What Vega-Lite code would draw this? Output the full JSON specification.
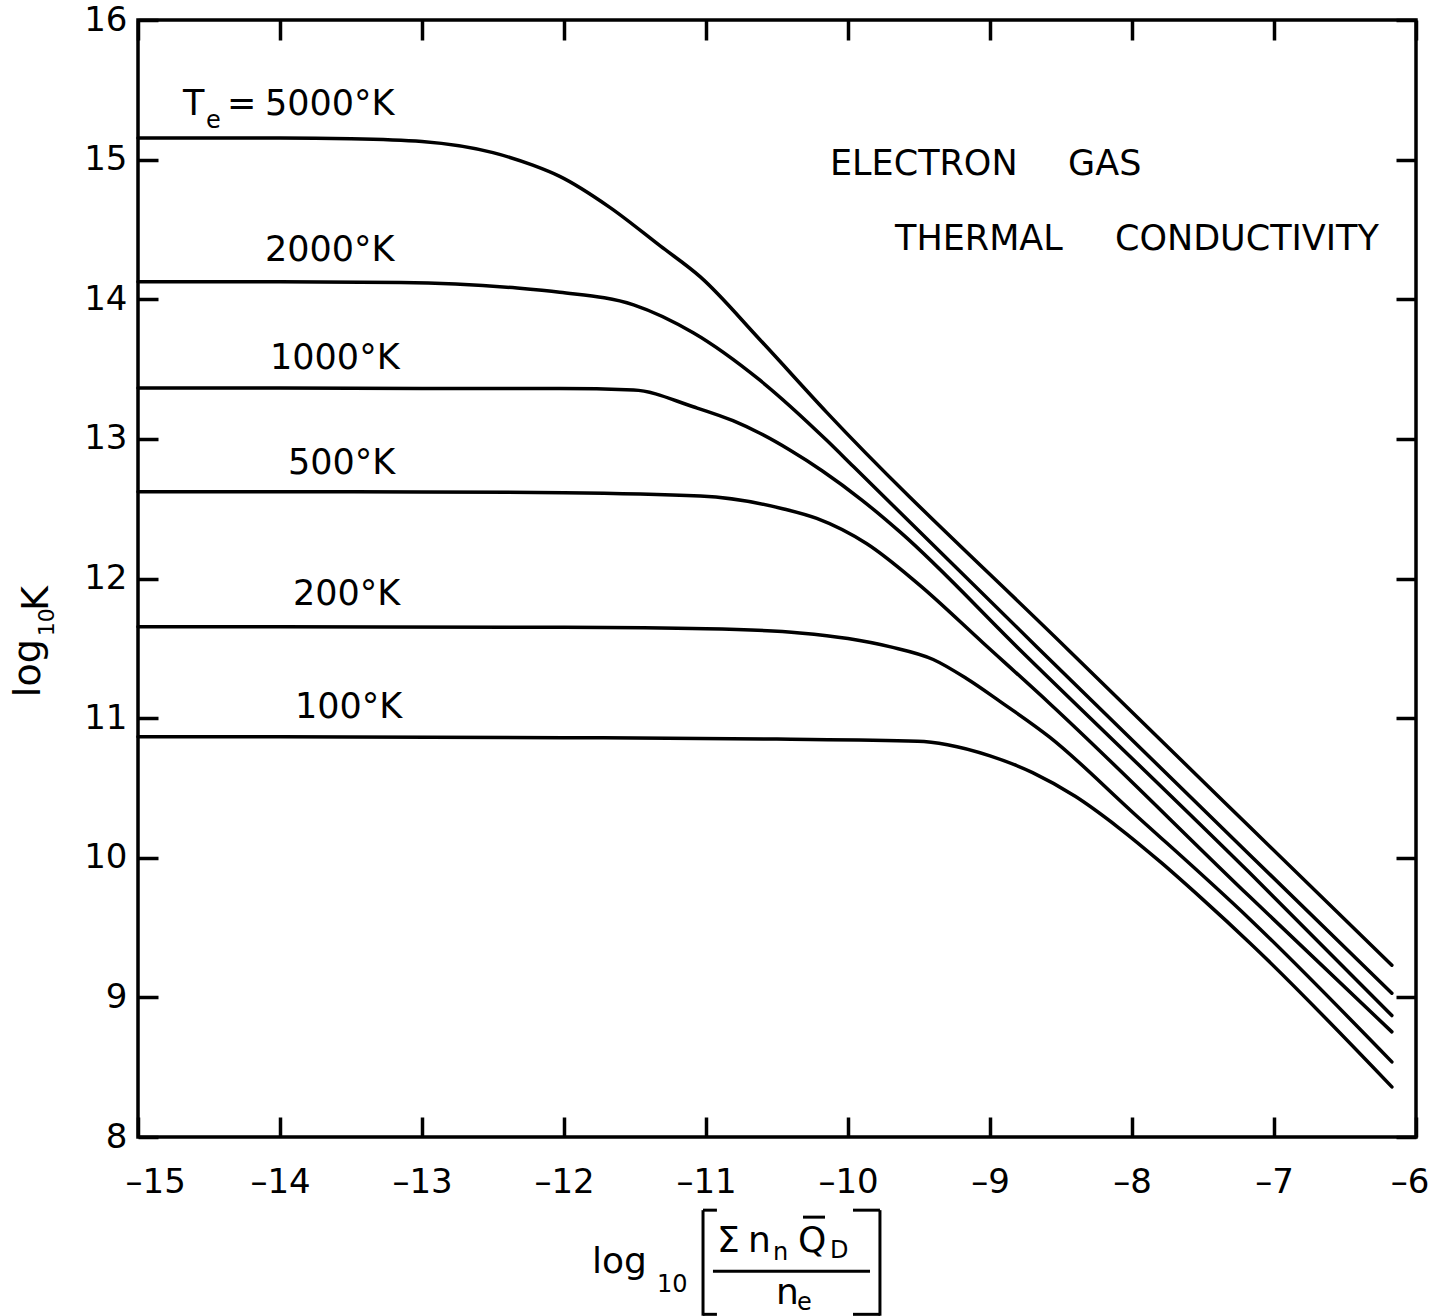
{
  "$schema": "https://vega.github.io/schema/vega-lite/v6.json",
  "width": 1278,
  "height": 1117,
  "autosize": {"type": "none"},
  "padding": {"left": 138, "top": 20, "right": 14, "bottom": 179},
  "background": "white",
  "config": {
    "font": "DejaVu Sans",
    "view": {"stroke": "black", "strokeWidth": 3.5},
    "axis": {"grid": false, "domain": false, "labelColor": "black", "tickColor": "black", "tickWidth": 3.5, "labelFont": "DejaVu Sans", "titleFont": "DejaVu Sans", "labelFlush": false}
  },
  "datasets": {
    "curves": [
      {"T": "5000", "x": -15, "y": 15.155}, {"T": "5000", "x": -14, "y": 15.155}, {"T": "5000", "x": -13.5, "y": 15.15}, {"T": "5000", "x": -13, "y": 15.13}, {"T": "5000", "x": -12.5, "y": 15.05}, {"T": "5000", "x": -12.22, "y": 14.96}, {"T": "5000", "x": -12.03, "y": 14.88}, {"T": "5000", "x": -11.68, "y": 14.66}, {"T": "5000", "x": -11.32, "y": 14.38}, {"T": "5000", "x": -11.04, "y": 14.16}, {"T": "5000", "x": -10.62, "y": 13.71}, {"T": "5000", "x": -10.15, "y": 13.19}, {"T": "5000", "x": -8.45, "y": 11.49}, {"T": "5000", "x": -7.17, "y": 10.22}, {"T": "5000", "x": -6.17, "y": 9.23},
      {"T": "2000", "x": -15, "y": 14.125}, {"T": "2000", "x": -14, "y": 14.125}, {"T": "2000", "x": -13.15, "y": 14.12}, {"T": "2000", "x": -12.33, "y": 14.08}, {"T": "2000", "x": -12.03, "y": 14.05}, {"T": "2000", "x": -11.51, "y": 13.96}, {"T": "2000", "x": -11.09, "y": 13.76}, {"T": "2000", "x": -10.62, "y": 13.42}, {"T": "2000", "x": -10.15, "y": 12.99}, {"T": "2000", "x": -9.96, "y": 12.8}, {"T": "2000", "x": -8.67, "y": 11.51}, {"T": "2000", "x": -7.17, "y": 10.02}, {"T": "2000", "x": -6.17, "y": 9.03},
      {"T": "1000", "x": -15, "y": 13.365}, {"T": "1000", "x": -14, "y": 13.365}, {"T": "1000", "x": -13, "y": 13.36}, {"T": "1000", "x": -12.03, "y": 13.36}, {"T": "1000", "x": -11.51, "y": 13.35}, {"T": "1000", "x": -11.09, "y": 13.23}, {"T": "1000", "x": -10.81, "y": 13.13}, {"T": "1000", "x": -10.62, "y": 13.04}, {"T": "1000", "x": -10.41, "y": 12.92}, {"T": "1000", "x": -10.18, "y": 12.77}, {"T": "1000", "x": -9.9, "y": 12.56}, {"T": "1000", "x": -9.63, "y": 12.33}, {"T": "1000", "x": -8.79, "y": 11.49}, {"T": "1000", "x": -7.17, "y": 9.89}, {"T": "1000", "x": -6.17, "y": 8.87},
      {"T": "500", "x": -15, "y": 12.621}, {"T": "500", "x": -14, "y": 12.621}, {"T": "500", "x": -13, "y": 12.62}, {"T": "500", "x": -12, "y": 12.615}, {"T": "500", "x": -11.04, "y": 12.59}, {"T": "500", "x": -10.46, "y": 12.5}, {"T": "500", "x": -10.22, "y": 12.43}, {"T": "500", "x": -9.87, "y": 12.25}, {"T": "500", "x": -9.51, "y": 11.965}, {"T": "500", "x": -9.05, "y": 11.54}, {"T": "500", "x": -8.58, "y": 11.105}, {"T": "500", "x": -7.17, "y": 9.72}, {"T": "500", "x": -6.17, "y": 8.753},
      {"T": "200", "x": -15, "y": 11.654}, {"T": "200", "x": -14, "y": 11.654}, {"T": "200", "x": -12, "y": 11.65}, {"T": "200", "x": -11, "y": 11.64}, {"T": "200", "x": -10.34, "y": 11.61}, {"T": "200", "x": -10.0, "y": 11.57}, {"T": "200", "x": -9.7, "y": 11.51}, {"T": "200", "x": -9.4, "y": 11.42}, {"T": "200", "x": -9.16, "y": 11.28}, {"T": "200", "x": -8.93, "y": 11.12}, {"T": "200", "x": -8.58, "y": 10.864}, {"T": "200", "x": -8, "y": 10.33}, {"T": "200", "x": -7.17, "y": 9.56}, {"T": "200", "x": -6.17, "y": 8.538},
      {"T": "100", "x": -15, "y": 10.866}, {"T": "100", "x": -14, "y": 10.866}, {"T": "100", "x": -12, "y": 10.86}, {"T": "100", "x": -10.5, "y": 10.85}, {"T": "100", "x": -9.51, "y": 10.835}, {"T": "100", "x": -9.3, "y": 10.81}, {"T": "100", "x": -9.0, "y": 10.73}, {"T": "100", "x": -8.7, "y": 10.61}, {"T": "100", "x": -8.4, "y": 10.44}, {"T": "100", "x": -8.1, "y": 10.22}, {"T": "100", "x": -7.8, "y": 9.97}, {"T": "100", "x": -7.5, "y": 9.7}, {"T": "100", "x": -7.17, "y": 9.39}, {"T": "100", "x": -6.17, "y": 8.359}
    ],
    "tempLabels": [
      {"label": "T", "x": -14.683, "y": 15.319},
      {"label": "=", "x": -14.373, "y": 15.319},
      {"label": "5000°K", "x": -14.106, "y": 15.319},
      {"label": "2000°K", "x": -14.106, "y": 14.274},
      {"label": "1000°K", "x": -14.07, "y": 13.5},
      {"label": "500°K", "x": -13.944, "y": 12.748},
      {"label": "200°K", "x": -13.908, "y": 11.809},
      {"label": "100°K", "x": -13.894, "y": 11.0}
    ],
    "subLabels": [
      {"label": "e", "x": -14.521, "y": 15.226},
      {"label": "10", "x": -11.345, "y": 6.888},
      {"label": "n", "x": -10.528, "y": 7.117},
      {"label": "D", "x": -10.127, "y": 7.132},
      {"label": "e", "x": -10.359, "y": 6.759}
    ],
    "titleLines": [
      {"label": "ELECTRON", "x": -10.127, "y": 14.89},
      {"label": "GAS", "x": -8.45, "y": 14.89},
      {"label": "THERMAL", "x": -9.669, "y": 14.352},
      {"label": "CONDUCTIVITY", "x": -8.12, "y": 14.352}
    ],
    "xTitleBig": [
      {"label": "log", "x": -11.803, "y": 7.024},
      {"label": "Σ", "x": -10.923, "y": 7.175},
      {"label": "n", "x": -10.704, "y": 7.175},
      {"label": "Q", "x": -10.352, "y": 7.175},
      {"label": "n", "x": -10.507, "y": 6.802}
    ],
    "yTitleBig": [
      {"label": "log", "x": -15.69, "y": 11.15},
      {"label": "K", "x": -15.634, "y": 11.767}
    ],
    "yTitleSmall": [
      {"label": "10", "x": -15.592, "y": 11.587}
    ],
    "xTitleRules": [
      {"x": -10.951, "y": 7.039, "x2": -9.845, "y2": 7.039},
      {"x": -11.021, "y": 7.476, "x2": -11.021, "y2": 6.72},
      {"x": -11.021, "y": 7.476, "x2": -10.923, "y2": 7.476},
      {"x": -11.021, "y": 6.73, "x2": -10.923, "y2": 6.73},
      {"x": -9.775, "y": 7.476, "x2": -9.775, "y2": 6.72},
      {"x": -9.965, "y": 7.476, "x2": -9.775, "y2": 7.476},
      {"x": -9.965, "y": 6.73, "x2": -9.775, "y2": 6.73},
      {"x": -10.317, "y": 7.426, "x2": -10.162, "y2": 7.426}
    ]
  },
  "layer": [
    {
      "data": {"name": "curves"},
      "mark": {"type": "line", "color": "black", "strokeWidth": 3.5, "interpolate": "monotone", "strokeCap": "round"},
      "encoding": {
        "x": {"field": "x", "type": "quantitative", "scale": {"domain": [-15, -6], "nice": false, "zero": false},
          "axis": {"orient": "bottom", "values": [-15, -14, -13, -12, -11, -10, -9, -8, -7, -6], "tickSize": -20, "labelFontSize": 34, "labelPadding": 48, "labelFlush": true, "labelFlushOffset": 13, "labelExpr": "'–' + abs(datum.value)", "title": null}},
        "y": {"field": "y", "type": "quantitative", "scale": {"domain": [8, 16], "nice": false, "zero": false},
          "axis": {"orient": "left", "values": [8, 9, 10, 11, 12, 13, 14, 15, 16], "tickSize": -20, "labelFontSize": 34, "labelPadding": 31, "title": null}},
        "detail": {"field": "T", "type": "nominal"}
      }
    },
    {
      "data": {"name": "tempLabels"},
      "mark": {"type": "text", "align": "left", "baseline": "alphabetic", "fontSize": 35, "color": "black"},
      "encoding": {
        "x": {"field": "x", "type": "quantitative", "scale": {"domain": [-15, -6], "nice": false, "zero": false},
          "axis": {"orient": "top", "values": [-15, -14, -13, -12, -11, -10, -9, -8, -7, -6], "tickSize": -20, "labels": false, "title": null}},
        "y": {"field": "y", "type": "quantitative", "scale": {"domain": [8, 16], "nice": false, "zero": false},
          "axis": {"orient": "right", "values": [8, 9, 10, 11, 12, 13, 14, 15, 16], "tickSize": -20, "labels": false, "title": null}},
        "text": {"field": "label"}
      }
    },
    {
      "data": {"name": "subLabels"},
      "mark": {"type": "text", "align": "left", "baseline": "alphabetic", "fontSize": 24, "color": "black"},
      "encoding": {
        "x": {"field": "x", "type": "quantitative", "scale": {"domain": [-15, -6], "nice": false, "zero": false}, "axis": null},
        "y": {"field": "y", "type": "quantitative", "scale": {"domain": [8, 16], "nice": false, "zero": false}, "axis": null},
        "text": {"field": "label"}
      }
    },
    {
      "data": {"name": "titleLines"},
      "mark": {"type": "text", "align": "left", "baseline": "alphabetic", "fontSize": 35, "color": "black"},
      "encoding": {
        "x": {"field": "x", "type": "quantitative", "scale": {"domain": [-15, -6], "nice": false, "zero": false}, "axis": null},
        "y": {"field": "y", "type": "quantitative", "scale": {"domain": [8, 16], "nice": false, "zero": false}, "axis": null},
        "text": {"field": "label"}
      }
    },
    {
      "data": {"name": "xTitleBig"},
      "mark": {"type": "text", "align": "left", "baseline": "alphabetic", "fontSize": 36, "color": "black"},
      "encoding": {
        "x": {"field": "x", "type": "quantitative", "scale": {"domain": [-15, -6], "nice": false, "zero": false}, "axis": null},
        "y": {"field": "y", "type": "quantitative", "scale": {"domain": [8, 16], "nice": false, "zero": false}, "axis": null},
        "text": {"field": "label"}
      }
    },
    {
      "data": {"name": "yTitleBig"},
      "mark": {"type": "text", "align": "left", "baseline": "alphabetic", "fontSize": 38, "angle": 270, "color": "black"},
      "encoding": {
        "x": {"field": "x", "type": "quantitative", "scale": {"domain": [-15, -6], "nice": false, "zero": false}, "axis": null},
        "y": {"field": "y", "type": "quantitative", "scale": {"domain": [8, 16], "nice": false, "zero": false}, "axis": null},
        "text": {"field": "label"}
      }
    },
    {
      "data": {"name": "yTitleSmall"},
      "mark": {"type": "text", "align": "left", "baseline": "alphabetic", "fontSize": 22, "angle": 270, "color": "black"},
      "encoding": {
        "x": {"field": "x", "type": "quantitative", "scale": {"domain": [-15, -6], "nice": false, "zero": false}, "axis": null},
        "y": {"field": "y", "type": "quantitative", "scale": {"domain": [8, 16], "nice": false, "zero": false}, "axis": null},
        "text": {"field": "label"}
      }
    },
    {
      "data": {"name": "xTitleRules"},
      "mark": {"type": "rule", "color": "black", "strokeWidth": 3},
      "encoding": {
        "x": {"field": "x", "type": "quantitative", "scale": {"domain": [-15, -6], "nice": false, "zero": false}, "axis": null},
        "y": {"field": "y", "type": "quantitative", "scale": {"domain": [8, 16], "nice": false, "zero": false}, "axis": null},
        "x2": {"field": "x2"},
        "y2": {"field": "y2"}
      }
    }
  ],
  "resolve": {"axis": {"x": "independent", "y": "independent"}}
}
